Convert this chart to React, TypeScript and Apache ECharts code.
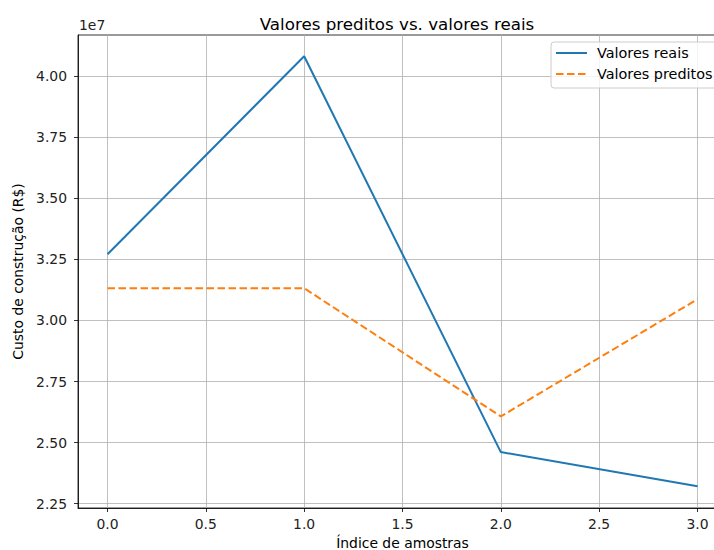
import React, { useEffect, useRef } from "react";
import * as echarts from "echarts";

const sampleIndex = [0, 1, 2, 3];
const realValues = [32710000, 40820000, 24610000, 23210000];
const predictedValues = [31320000, 31320000, 26070000, 30870000];
const xTicks = [0, 0.5, 1, 1.5, 2, 2.5, 3];
const yTicks = [22500000, 25000000, 27500000, 30000000, 32500000, 35000000, 37500000, 40000000];
const seriesNames = ["Valores reais", "Valores preditos"];

const FONT = "DejaVu Sans";
const TXT = "#222";
const FS = 13.9;

export default function App() {
  const ref = useRef<HTMLDivElement>(null);
  useEffect(() => {
    if (!ref.current) return;
    const chart = echarts.init(ref.current, null, { renderer: "svg" });
    const axisCommon = {
      axisLine: { show: true, onZero: false, lineStyle: { color: "#000", width: 0.8 } },
      axisTick: { show: true, inside: false, length: 4, lineStyle: { color: "#000", width: 0.8 } },
      splitLine: { show: true, lineStyle: { color: "#b0b0b0", width: 0.8 } },
    };
    chart.setOption({
      animation: false,
      backgroundColor: "#fff",
      title: {
        text: "Valores preditos vs. valores reais",
        left: 392,
        top: 10,
        textAlign: "center",
        textStyle: { fontFamily: FONT, fontSize: 16.7, fontWeight: "normal", color: "#000" },
      },
      grid: {
        left: 78,
        top: 35,
        width: 649,
        height: 473,
        outerBoundsMode: "none",
        containLabel: false,
        show: true,
        borderColor: "#000",
        borderWidth: 0.8,
        backgroundColor: "transparent",
      },
      legend: {
        left: 551,
        top: 42,
        orient: "vertical",
        data: seriesNames,
        itemWidth: 31,
        itemHeight: 14,
        itemGap: 7,
        padding: [4, 8, 7, 4],
        backgroundColor: "rgba(255,255,255,0.8)",
        borderColor: "#cccccc",
        borderWidth: 1,
        borderRadius: 3,
        itemStyle: { opacity: 0 },
        textStyle: { fontFamily: FONT, fontSize: 14.4, color: "#000", padding: [0, 0, 0, 5] },
      },
      xAxis: {
        type: "value",
        min: -0.15,
        max: 3.15,
        name: "Índice de amostras",
        nameLocation: "middle",
        nameGap: 27,
        nameTextStyle: { fontFamily: FONT, fontSize: FS, color: "#000", lineHeight: 15 },
        ...axisCommon,
        axisTick: { ...axisCommon.axisTick, customValues: xTicks },
        axisLabel: {
          customValues: xTicks,
          formatter: (v: number) => v.toFixed(1),
          fontFamily: FONT,
          fontSize: FS,
          color: TXT,
          margin: 9,
        },
      },
      yAxis: {
        type: "value",
        min: 22320000,
        max: 41690000,
        name: "Custo de construção (R$)",
        nameLocation: "middle",
        nameGap: 52,
        nameTextStyle: { fontFamily: FONT, fontSize: FS, color: "#000" },
        ...axisCommon,
        axisTick: { ...axisCommon.axisTick, customValues: yTicks },
        axisLabel: {
          customValues: yTicks,
          formatter: (v: number) => (v / 1e7).toFixed(2),
          fontFamily: FONT,
          fontSize: FS,
          color: TXT,
          margin: 11,
        },
      },
      graphic: [
        {
          type: "text",
          left: 79,
          top: 18,
          style: { text: "1e7", fontFamily: FONT, fontSize: FS, fill: TXT },
        },
      ],
      series: [
        {
          name: seriesNames[0],
          type: "line",
          symbol: "none",
          showSymbol: false,
          data: sampleIndex.map((x, i) => [x, realValues[i]]),
          itemStyle: { color: "#1f77b4" },
          lineStyle: { color: "#1f77b4", width: 2 },
        },
        {
          name: seriesNames[1],
          type: "line",
          symbol: "none",
          showSymbol: false,
          data: sampleIndex.map((x, i) => [x, predictedValues[i]]),
          itemStyle: { color: "#ff7f0e" },
          lineStyle: { color: "#ff7f0e", width: 2, type: [7.5, 3.5] },
        },
      ],
    });
    return () => chart.dispose();
  }, []);
  return (
    <div
      ref={ref}
      style={{ position: "fixed", left: 0, top: 0, width: 714, height: 550 }}
    />
  );
}
